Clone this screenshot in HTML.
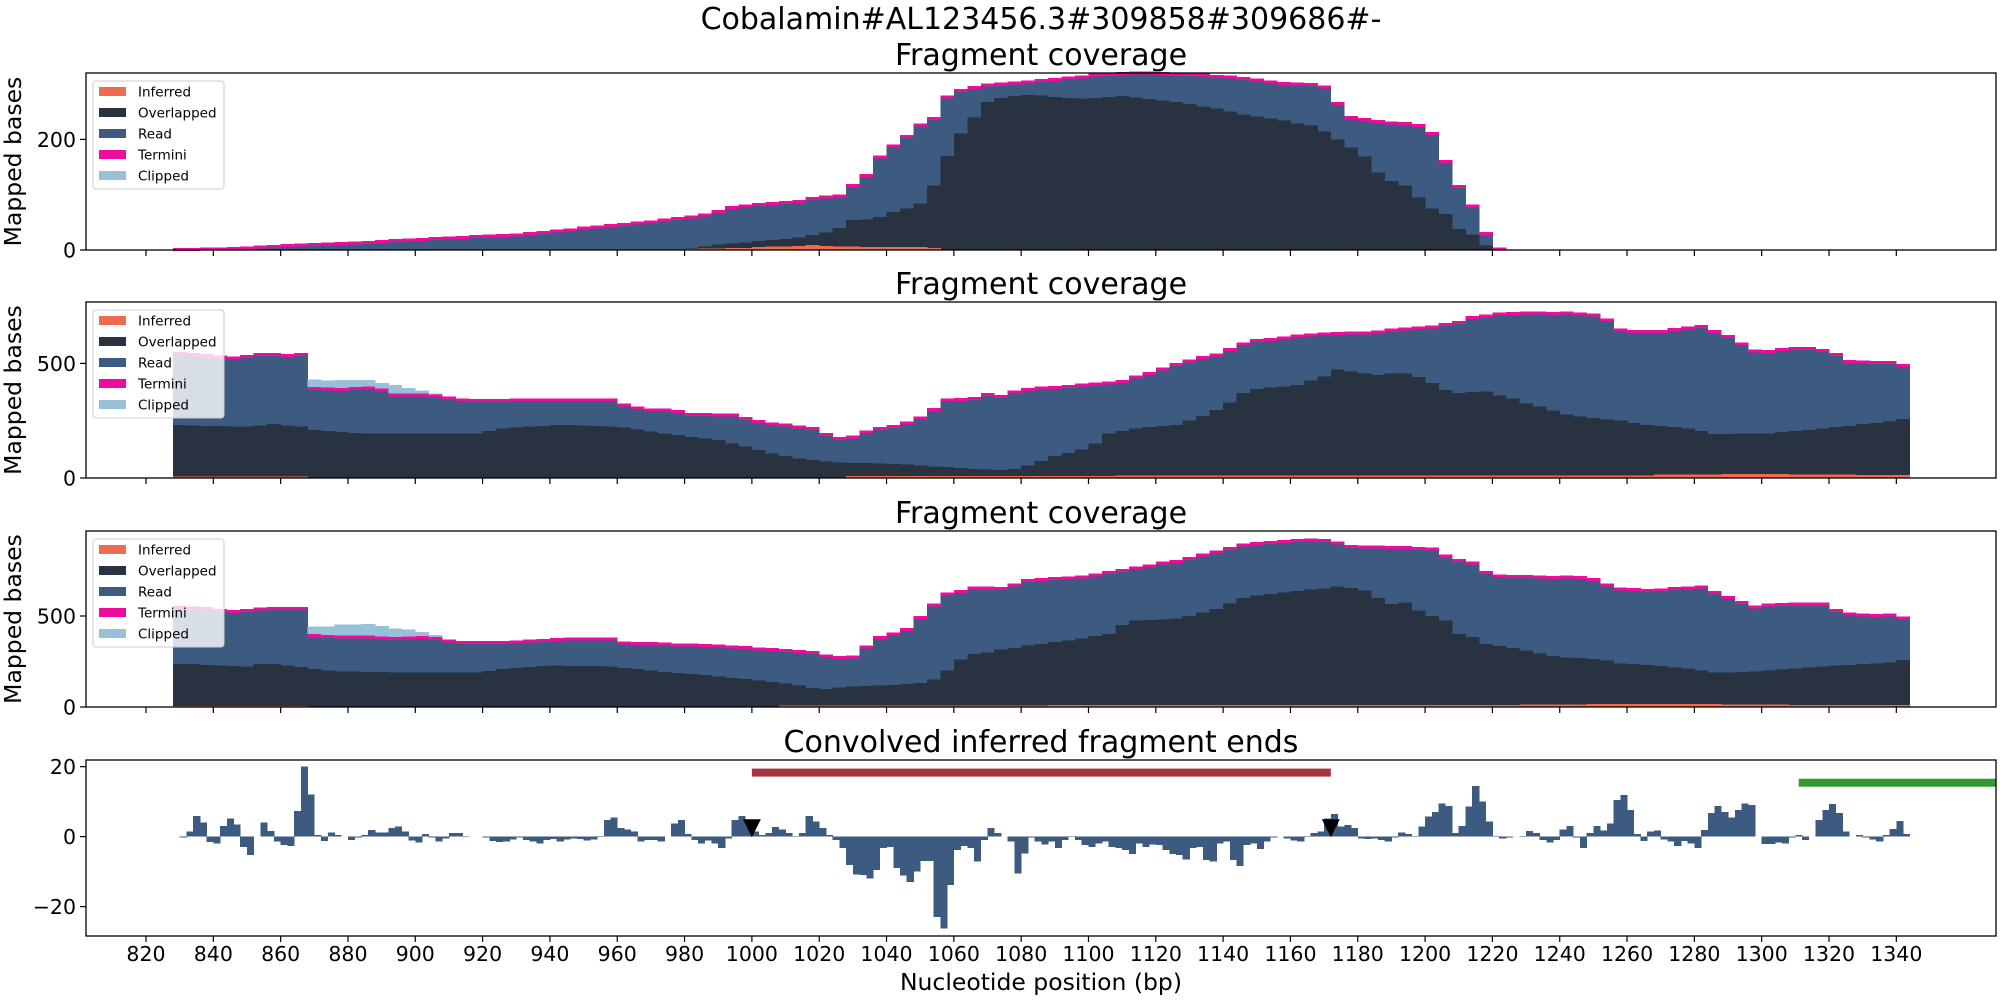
<!DOCTYPE html>
<html><head><meta charset="utf-8">
<style>
html,body{margin:0;padding:0;background:#fff;}
svg{display:block;font-family:"DejaVu Sans","Liberation Sans",sans-serif;}
</style></head>
<body>
<svg id="chart" width="2000" height="1000" viewBox="0 0 2000 1000" xmlns="http://www.w3.org/2000/svg">
<rect x="0" y="0" width="2000" height="1000" fill="#fff"/>
<text x="1041" y="29" font-size="30" text-anchor="middle">Cobalamin#AL123456.3#309858#309686#-</text>
<g id="layer"></g>
</svg>
<script>
// ---- data ----
const xTicks = [820,840,860,880,900,920,940,960,980,1000,1020,1040,1060,1080,1100,1120,1140,1160,1180,1200,1220,1240,1260,1280,1300,1320,1340];
const legendLabels = ["Inferred","Overlapped","Read","Termini","Clipped"];
const panelTitles = ["Fragment coverage","Fragment coverage","Fragment coverage","Convolved inferred fragment ends"];

const p1Total = [1,1,2,2,3,4,5,6,8,9,10,11,12,13,14,15,17,18,19,21,22,23,24,25,26,27,30,32,34,36,40,42,44,46,49,51,54,57,60,63,70,77,80,82,84,86,88,93,96,98,117,135,168,188,205,226,238,277,288,294,298,300,302,304,306,308,311,313,316,318,319,320,320,319,318,317,316,314,313,310,307,304,301,300,299,295,265,240,236,232,230,229,225,211,160,115,80,30,2];
const p1Overlap = [1,3,6,10,12,14,16,18,20,23,27,32,40,54,55,60,69,75,84,117,170,211,240,268,275,278,280,279,277,275,274,275,277,278,276,273,270,268,264,259,256,250,245,241,238,234,229,225,214,200,185,169,140,125,117,95,75,65,38,28,8,1];
const p1Inferred = [1,2,3,3,4,4,5,6,6,7,9,7,6,6,5,5,5,5,5,4,1];

const p2Total = [544,540,535,528,523,530,540,538,535,540,390,388,387,390,392,385,362,362,362,358,350,340,338,338,338,340,340,340,340,340,340,340,340,318,305,297,297,290,278,278,276,275,260,246,235,231,222,217,190,173,180,200,215,225,240,261,300,340,342,346,365,355,375,387,392,396,399,405,410,415,421,440,455,475,495,510,525,537,560,585,600,605,612,620,625,628,630,632,632,638,645,650,654,660,670,678,700,706,715,718,720,719,718,719,715,712,690,645,639,639,640,648,655,661,640,617,585,555,552,560,566,566,556,540,508,506,505,505,492];
const p2Overlap = [231,230,228,226,224,224,230,236,230,225,210,205,200,196,195,195,195,195,195,195,195,195,195,205,215,220,225,228,231,232,230,226,224,220,212,202,195,188,180,172,166,150,137,122,108,96,86,78,71,68,66,65,64,62,58,54,50,48,44,40,37,35,40,55,75,95,110,125,150,195,205,215,222,228,231,250,270,297,330,370,388,395,400,406,425,442,474,465,455,450,455,457,440,415,385,370,375,377,360,348,325,311,295,278,268,262,255,250,240,232,228,222,217,205,192,192,194,195,195,200,205,210,215,222,228,235,240,246,258];
const p2Clipped = [40,38,40,38,36,30,44,30,20,10,5];
const p2Inferred = [6,6,0,0,0,0,0,0,0,2,8,8,9,9,10,10,10,11,10,12,12,12,16,18,16,14];

const p3Total = [548,545,540,530,524,530,538,540,540,542,392,388,385,384,385,380,377,380,383,375,362,355,355,355,355,358,362,366,372,374,374,374,374,352,350,348,345,342,341,338,335,330,328,320,315,310,305,300,280,273,275,330,383,400,425,493,560,620,635,655,655,652,670,695,700,705,709,715,725,740,749,765,775,790,800,815,835,852,870,890,898,905,910,916,918,915,900,883,880,878,877,876,872,868,830,805,790,740,720,718,716,715,712,715,712,700,670,648,645,639,642,650,655,658,630,603,575,550,560,564,566,566,566,530,511,505,503,505,490];
const p3Overlap = [236,235,232,228,224,223,235,236,228,220,209,200,196,194,193,192,190,190,190,190,190,190,190,198,210,215,220,224,227,226,225,224,223,215,208,200,193,186,181,176,168,160,154,145,136,128,119,105,99,108,114,116,118,121,126,132,150,200,260,291,300,315,325,337,345,358,364,375,390,401,450,474,478,482,487,500,520,538,570,600,612,620,628,636,645,652,663,655,639,600,565,575,530,500,474,401,385,346,335,325,310,295,280,273,268,264,255,240,236,230,225,218,212,200,190,190,192,194,200,206,212,218,222,227,232,236,240,245,258];
const p3Clipped = [50,55,68,70,72,65,55,45,30,20,10];
const p3Inferred = [6,6,0,0,0,0,0,0,2,8,8,9,9,10,10,10,10,10,12,12,14,16,16,14,12,12];

const convValues = [-0.3,1.4,5.9,4,-1.5,-2,3,5.2,3.5,-3,-5.2,0,4.1,1.6,-1.4,-2.4,-2.7,7.3,20,12,0.5,-1.2,1.2,0.5,0,-1,-0.2,0.5,1.9,1.2,1.2,2.4,2.9,1.4,-1.1,-1.7,0.8,-0.2,-1.4,-0.5,1,1.1,0.2,0,0,-0.2,-1.2,-1.6,-1.4,-0.8,-0.3,-1,-1.4,-1.9,-1,-0.7,-1.4,-0.8,-0.6,-0.7,-1.1,-0.8,0.2,4.8,5.5,2.4,2.1,1.4,-1.4,-1,-1,-1.4,0,3.8,4.8,0.8,-1,-1.9,-1.1,-1.9,-3.3,-0.5,4.8,5.9,
3.3,1.4,0.5,1,2.7,2.1,1,0.2,1.1,5.9,4.3,2.4,0.5,-1,-3.3,-8.1,-10.8,-11,-11.9,-9.5,-3.3,-3,-9,-11.1,-12.9,-10,-7,-7,-22.9,-26.2,-13.8,-3.8,-2.7,-3.3,-7.1,-1,2.4,1,0,-1.4,-10.5,-4.8,-0.2,-1.4,-2.2,-1.4,-3.3,-1,0.2,-1,-2.4,-2.9,-1.9,-1.4,-2.9,-3.3,-3.8,-5,-1.9,-2.9,-2.2,-2.4,-3.8,-5,-5.2,-6.5,-3.3,-2.9,-6.7,-7.1,-1.9,-1.4,-6.7,-8.4,-2.4,-1.9,-3.6,-1.4,-0.3,0,-0.5,-1.1,-1.4,0.2,1,
1.4,5.2,6.5,2.9,3.3,2.4,-0.5,-0.7,-0.5,-1,-1.4,-0.2,1.2,0.8,0.2,2.9,5.7,7,9.5,8.8,1.1,3,8.6,14.5,10,4.3,0.2,-0.5,-0.2,0,0.2,1.6,1,-1,-1.7,-1,2.1,3.1,-0.2,-3.3,1,3,1.7,3.8,10.5,11.9,7.6,0.8,-1.2,1.4,1.7,-0.8,-1.4,-2.7,-1.2,-1.9,-3.3,1.9,6.7,8.8,7.1,5.5,7.6,9.5,9,0,-2.1,-2.1,-1.7,-1.9,-0.2,0.5,-1,0,4.8,7.6,9.3,6.7,1.4,0.1,0.5,-0.2,-0.8,-1.4,0.5,2.2,4.5,0.8];
const regionStarts = [1000,1311];
const regionEnds = [1172,1380];
const regionLevels = [18.3,15.4];
const markerPositions = [1000,1172];
const markerLevels = [2.4,2.4];

// ---- layout ----
const C = {inf:"#ee6c4d", ovl:"#293241", read:"#3d5a80", term:"#ee0c9c", clip:"#98c1d9"};
const AX_L = 86, AX_R = 1996;
function xs(bp){ return 146 + (bp-820)*3.366; }
const panels = [
  {top:73, bottom:250, ymin:0, ymax:320, yticks:[0,200], ylabel:true},
  {top:302, bottom:478, ymin:0, ymax:768, yticks:[0,500], ylabel:true},
  {top:531, bottom:707, ymin:0, ymax:967, yticks:[0,500], ylabel:true},
  {top:760, bottom:936, ymin:-28.4, ymax:21.9, yticks:[-20,0,20], ylabel:false}
];
function ys(p, v){ return p.bottom - (v - p.ymin)/(p.ymax - p.ymin)*(p.bottom-p.top); }

const NS = "http://www.w3.org/2000/svg";
const layer = document.getElementById('layer');
function mk(tag, attrs, parent){
  const e = document.createElementNS(NS, tag);
  for (const k in attrs) e.setAttribute(k, attrs[k]);
  (parent||layer).appendChild(e);
  return e;
}
function bar(g, x0, x1, y0, y1, color){
  const top = Math.min(y0,y1), h = Math.abs(y1-y0);
  if (h <= 0) return null;
  return mk('rect', {x:x0, y:top, width:Math.max(x1-x0+0.4,0.5), height:h, fill:color, 'shape-rendering':'crispEdges'}, g);
}

function drawCoverage(pi, total, totalStart, overlap, overlapStart, inferred, infStart, infW, clipped, clipStart){
  const p = panels[pi];
  const g = mk('g', {});
  
  
  const W = 4;
  total.forEach((v,i)=>{
    const bp = totalStart + i*W;
    const r = bar(g, xs(bp), xs(bp+W), ys(p,0), ys(p,v), C.read);
    if (r){   }
  });
  overlap.forEach((v,i)=>{
    const bp = overlapStart + i*W;
    const r = bar(g, xs(bp), xs(bp+W), ys(p,0), ys(p,v), C.ovl);
    if (r){   }
  });
  inferred.forEach((v,i)=>{
    const bp = infStart + i*infW;
    const end = Math.min(bp+infW, 1344);
    const r = bar(g, xs(bp), xs(end), ys(p,0), ys(p,v), C.inf);
    if (r){   }
  });
  total.forEach((v,i)=>{
    if (v <= 0) return;
    const bp = totalStart + i*W;
    const y = ys(p,v);
    const r = bar(g, xs(bp), xs(bp+W), y-1.5, y+1.5, C.term);
    
    
  });
  clipped.forEach((v,i)=>{
    const bp = clipStart + i*W;
    const idx = (bp - totalStart)/W;
    const base = total[idx] || 0;
    const r = bar(g, xs(bp), xs(bp+W), ys(p,base)-1.5, ys(p,base+v), C.clip);
    if (r){   }
  });
}

drawCoverage(0, p1Total, 828, p1Overlap, 976, p1Inferred, 976, 4, [], 868);
drawCoverage(1, p2Total, 828, p2Overlap, 828, p2Inferred, 828, 20, p2Clipped, 868);
drawCoverage(2, p3Total, 828, p3Overlap, 828, p3Inferred, 828, 20, p3Clipped, 868);

// convolved panel
(function(){
  const p = panels[3];
  const g = mk('g', {});
  
  
  convValues.forEach((v,i)=>{
    const bp = 830 + i*2;
    const r = bar(g, xs(bp), xs(bp+2), ys(p,0), ys(p,v), C.read);
    if (r){   }
  });
  const colors = ["#a4343f","#339933"];
  regionStarts.forEach((s,i)=>{
    const x0 = xs(s), x1 = Math.min(xs(regionEnds[i]), AX_R);
    const y = ys(p, regionLevels[i]);
    const r = mk('rect', {x:x0, y:y-4, width:x1-x0, height:8, fill:colors[i]});
    
    
  });
  markerPositions.forEach((bp,i)=>{
    const cx = xs(bp), cy = ys(p, markerLevels[i]);
    const t = mk('polygon', {points:`${cx-9},${cy-9} ${cx+9},${cy-9} ${cx},${cy+9}`, fill:'#000'});
    
    
  });
})();

// axes, ticks, titles, legends
panels.forEach((p,pi)=>{
  const fr = mk('rect', {x:AX_L, y:p.top, width:AX_R-AX_L, height:p.bottom-p.top, fill:'none', stroke:'#000', 'stroke-width':1.3});
  
  
  const tt = mk('text', {x:(AX_L+AX_R)/2, y:p.top-8, 'font-size':30, 'text-anchor':'middle'});
  tt.textContent = panelTitles[pi];
  
  
  xTicks.forEach(t=>{
    const x = xs(t);
    const tk = mk('line', {x1:x, x2:x, y1:p.bottom, y2:p.bottom+6, stroke:'#000', 'stroke-width':1.2});
    
    
    if (pi===3){
      const tl = mk('text', {x:x, y:p.bottom+25, 'font-size':20.5, 'text-anchor':'middle'});
      tl.textContent = String(t);
      
      
    }
  });
  p.yticks.forEach(t=>{
    const y = ys(p,t);
    const tk = mk('line', {x1:AX_L-6, x2:AX_L, y1:y, y2:y, stroke:'#000', 'stroke-width':1.2});
    
    
    const tl = mk('text', {x:AX_L-10, y:y+7.5, 'font-size':20.5, 'text-anchor':'end'});
    tl.textContent = t < 0 ? '\u2212' + Math.abs(t) : String(t);
    
    
  });
  if (p.ylabel){
    const cy = (p.top+p.bottom)/2;
    const yl = mk('text', {x:0, y:0, 'font-size':23.5, 'text-anchor':'middle', transform:`translate(21,${cy}) rotate(-90)`});
    yl.textContent = 'Mapped bases';
    
    
  }
  if (pi < 3){
    const lg = mk('g', {});
    
    
    const bx = 93, by = p.top + 8;
    mk('rect', {x:bx, y:by, width:131, height:108, rx:3, fill:'#fff', 'fill-opacity':0.8, stroke:'#ccc', 'stroke-width':1}, lg);
    const cols = [C.inf, C.ovl, C.read, C.term, C.clip];
    legendLabels.forEach((lab,i)=>{
      const cy = by + 10.5 + i*21;
      const e = mk('g', {}, lg);
      
      
      mk('rect', {x:bx+6, y:cy-4.5, width:27, height:9, fill:cols[i]}, e);
      const tx = mk('text', {x:bx+45, y:cy+5, 'font-size':13.5}, e);
      tx.textContent = lab;
    });
  }
});
const xl = mk('text', {x:(AX_L+AX_R)/2, y:990, 'font-size':23.5, 'text-anchor':'middle'});
xl.textContent = 'Nucleotide position (bp)';


</script>
</body></html>
